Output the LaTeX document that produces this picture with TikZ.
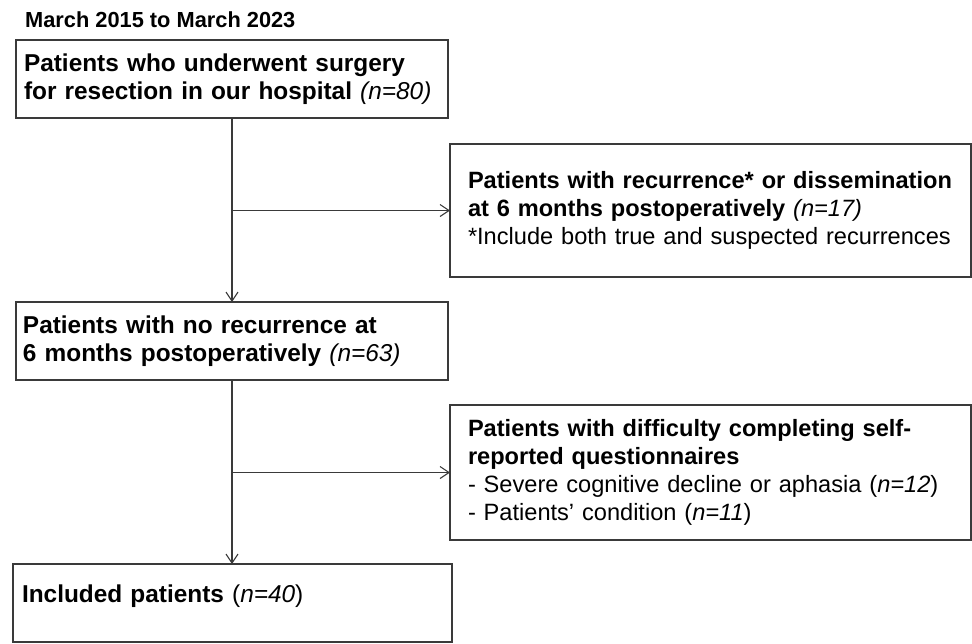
\documentclass[tikz,border=0pt]{standalone}
\usepackage{fontspec}
\setmainfont{Liberation Sans}
\usetikzlibrary{arrows.meta}
\definecolor{linegray}{HTML}{3A3A3A}
\newcommand\boxfontsetup{\fontsize{24.4}{27.8}\selectfont}
\newcommand\sidefontsetup{\fontsize{23.6}{28}\selectfont}
\newcommand\oneline[1]{\mbox{#1}}
\tikzset{
  box/.style={draw=linegray, line width=1.3pt, anchor=north west, align=left,
    outer sep=0pt, inner ysep=0pt, font=\boxfontsetup},
  sidebox/.style={box, font=\sidefontsetup},
  arr/.style={draw=linegray, line width=1.1pt, -{Straight Barb[length=9pt,width=12pt,line width=1.1pt]}},
}
\begin{document}
\begin{tikzpicture}[x=1pt,y=1pt]
\useasboundingbox (0,0) rectangle (972,-643);
\node[anchor=base west, inner sep=0pt, font=\bfseries\fontsize{21.8}{24}\selectfont] (title) at (25,-27) {March 2015 to March 2023};
\node[box, minimum width=432pt, minimum height=78pt, inner xsep=8pt, text width=416pt] (b1) at (16,-40)
  {\oneline{\bfseries Patients who underwent surgery}\\\oneline{\bfseries for resection in our hospital \mdseries\itshape (n=80)}};
\node[sidebox, minimum width=521pt, minimum height=133pt, inner xsep=18pt, text width=485pt] (b2) at (450,-144)
  {\oneline{\bfseries Patients with recurrence* or dissemination}\\\oneline{\bfseries at 6 months postoperatively \mdseries\itshape (n=17)}\\\oneline{*Include both true and suspected recurrences}};
\node[box, minimum width=432pt, minimum height=78pt, inner xsep=7pt, text width=418pt] (b3) at (16,-302)
  {\oneline{\bfseries Patients with no recurrence at}\\\oneline{\bfseries 6 months postoperatively \mdseries\itshape (n=63)}};
\node[sidebox, minimum width=521pt, minimum height=135pt, inner xsep=18pt, text width=485pt] (b4) at (450,-405)
  {\oneline{\bfseries Patients with difficulty completing self-}\\\oneline{\bfseries reported questionnaires}\\\oneline{- Severe cognitive decline or aphasia (\textit{n=12})}\\\oneline{- Patients’ condition (\textit{n=11})}};
\node[box, minimum width=439pt, minimum height=78pt, inner xsep=9pt, text width=421pt, text depth=18pt] (b5) at (13,-564)
  {\oneline{\bfseries Included patients \mdseries(\textit{n=40})}};
\coordinate (j1) at (b1.south |- b2.west);
\coordinate (j2) at (b3.south |- b4.west);
\draw[arr] (b1.south) -- (b1.south |- b3.north);
\draw[arr] (j1) -- (b2.west);
\draw[arr] (b3.south) -- (b3.south |- b5.north);
\draw[arr] (j2) -- (b4.west);
\end{tikzpicture}
\end{document}
